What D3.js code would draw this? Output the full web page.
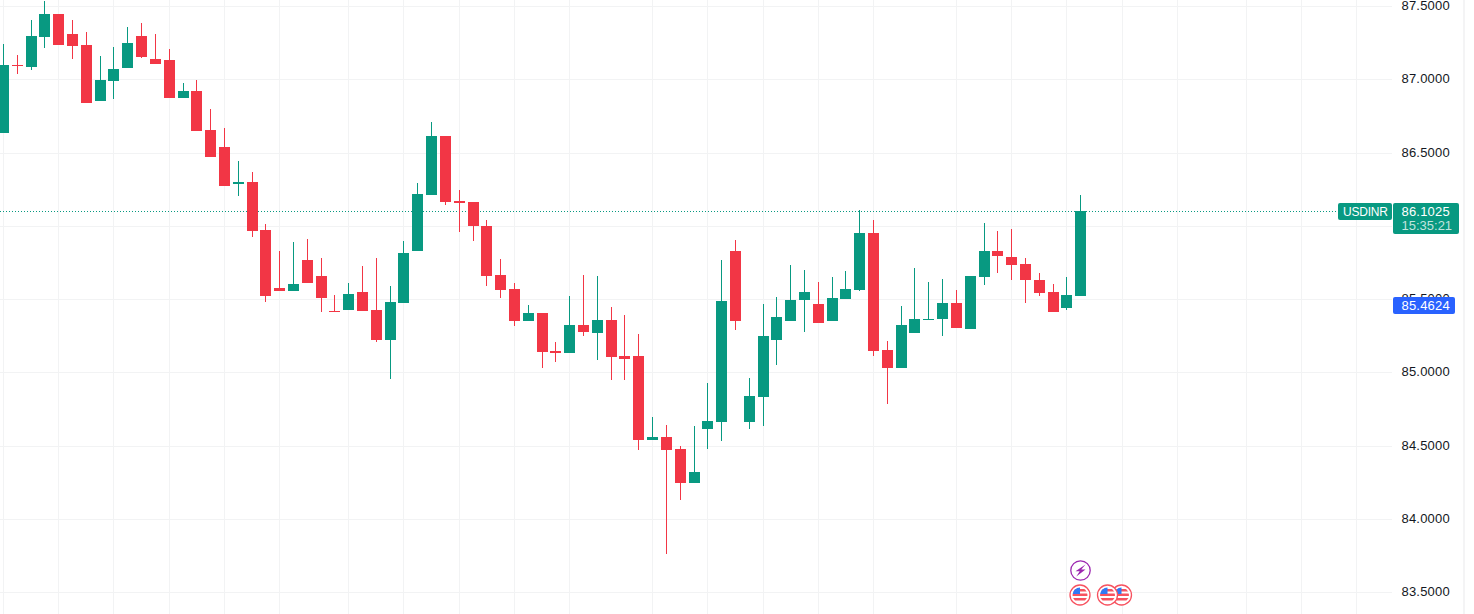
<!DOCTYPE html>
<html>
<head>
<meta charset="utf-8">
<script src="https://cdn.jsdelivr.net/npm/d3@7/dist/d3.min.js"></script>
<style>
  html, body { margin: 0; background: #fff; }
  svg { display: block; font-family: "Liberation Sans", Arial, sans-serif; }
</style>
</head>
<body>
<svg id="chart" width="1474" height="614"></svg>
<script>
const opens = [86.634,87.098,87.084,87.289,87.446,87.309,87.234,86.852,86.989,87.077,87.296,87.139,87.132,86.873,86.921,86.655,86.539,86.286,86.300,85.973,85.577,85.557,85.768,85.659,85.421,85.427,85.550,85.427,85.223,85.475,85.830,86.211,86.614,86.171,86.164,86.000,85.666,85.571,85.352,85.407,85.148,85.134,85.325,85.271,85.359,85.114,85.114,84.541,84.562,84.480,84.248,84.616,84.664,85.830,84.664,84.834,85.223,85.352,85.496,85.468,85.352,85.502,85.564,85.952,85.155,85.032,85.271,85.359,85.366,85.475,85.298,85.652,85.830,85.789,85.741,85.632,85.550,85.441,85.523];
const highs = [87.241,87.166,87.405,87.534,87.446,87.405,87.323,87.159,87.221,87.357,87.384,87.309,87.207,86.975,86.996,86.798,86.668,86.443,86.368,86.014,85.830,85.891,85.912,85.782,85.530,85.612,85.727,85.782,85.591,85.898,86.293,86.709,86.614,86.246,86.164,86.041,85.775,85.612,85.462,85.407,85.209,85.523,85.666,85.659,85.448,85.393,85.264,84.698,84.643,84.500,84.637,84.930,85.768,85.905,84.964,85.468,85.516,85.734,85.700,85.618,85.652,85.693,86.109,86.041,85.216,85.455,85.714,85.618,85.639,85.564,85.659,86.021,85.966,85.980,85.782,85.680,85.605,85.652,86.211];
const lows = [86.634,87.036,87.064,87.214,87.234,87.139,86.839,86.852,86.866,87.077,87.146,87.105,86.873,86.873,86.648,86.471,86.273,86.205,85.925,85.482,85.557,85.557,85.612,85.414,85.414,85.427,85.421,85.209,84.957,85.475,85.830,86.211,86.143,85.959,85.898,85.591,85.509,85.318,85.352,85.032,85.073,85.134,85.250,85.087,84.950,84.950,84.473,84.541,83.764,84.132,84.248,84.480,84.534,85.291,84.616,84.637,85.052,85.352,85.277,85.339,85.352,85.502,85.557,85.114,84.787,85.032,85.271,85.359,85.250,85.305,85.298,85.598,85.680,85.632,85.475,85.523,85.414,85.427,85.523];
const closes = [87.098,87.091,87.296,87.446,87.234,87.227,86.839,86.996,87.071,87.248,87.152,87.105,86.873,86.921,86.648,86.471,86.273,86.300,85.966,85.523,85.557,85.605,85.612,85.509,85.414,85.537,85.421,85.223,85.482,85.816,86.218,86.614,86.164,86.157,86.000,85.659,85.564,85.352,85.407,85.141,85.134,85.325,85.277,85.359,85.107,85.093,84.541,84.562,84.473,84.248,84.323,84.671,85.489,85.352,84.841,85.250,85.380,85.496,85.550,85.339,85.509,85.571,85.952,85.148,85.032,85.325,85.366,85.366,85.475,85.305,85.659,85.830,85.796,85.734,85.632,85.543,85.414,85.530,86.102];

const priceTicks = [83.5,84,84.5,85,85.5,86,86.5,87,87.5];
// 86.0000 sits under the last price tag in the picture
const priceLabels = [83.5,84,84.5,85,85.5,86.5,87,87.5];
const timeGrid = [0,4,8,12,16,20,25,29,33,37,41,47,51,55,59,63,69,73,77,81,85,90,94,98];

const lastPrice = 86.1025;
const countdown = '15:35:21';
const symbol = 'USDINR';
const markPrice = 85.4624;

const green = '#089981', red = '#F23645', gridCol = '#F2F3F4', axisText = '#131722';

const svg = d3.select('#chart');
const x = d3.scaleLinear().domain([0, 78]).range([3.5, 1080.7]);
const y = d3.scaleLinear().domain([87, 84]).range([79.3, 519]);
const sharpX = v => Math.floor(v);
const sharpY = v => Math.round(v);

// grid
svg.append('g').selectAll('line').data(priceTicks).join('line')
  .attr('x1', 0).attr('x2', 1392)
  .attr('y1', d => sharpY(y(d)) + 0.5).attr('y2', d => sharpY(y(d)) + 0.5)
  .attr('stroke', gridCol);
svg.append('g').selectAll('line').data(timeGrid).join('line')
  .attr('x1', d => sharpX(x(d)) + 0.5).attr('x2', d => sharpX(x(d)) + 0.5)
  .attr('y1', 0).attr('y2', 614)
  .attr('stroke', gridCol);

// last price line
svg.append('line')
  .attr('x1', 0).attr('x2', 1338)
  .attr('y1', sharpY(y(lastPrice)) + 0.5).attr('y2', sharpY(y(lastPrice)) + 0.5)
  .attr('stroke', green).attr('stroke-dasharray', '1 2');

// candles
const candles = svg.append('g').selectAll('g').data(d3.range(opens.length)).join('g')
  .attr('fill', i => closes[i] >= opens[i] ? green : red);
candles.append('rect')
  .attr('x', i => sharpX(x(i)))
  .attr('width', 1)
  .attr('y', i => sharpY(y(highs[i])))
  .attr('height', i => Math.max(1, sharpY(y(lows[i])) - sharpY(y(highs[i]))));
candles.append('rect')
  .attr('x', i => sharpX(x(i)) - 5)
  .attr('width', 11)
  .attr('y', i => sharpY(y(Math.max(opens[i], closes[i]))))
  .attr('height', i => Math.max(1, sharpY(y(Math.min(opens[i], closes[i]))) - sharpY(y(Math.max(opens[i], closes[i])))));

// price axis
svg.append('rect').attr('x', 1463).attr('y', 0).attr('width', 2).attr('height', 614).attr('fill', '#F4F4F5');
svg.append('g').selectAll('text').data(priceLabels).join('text')
  .attr('x', 1401.5).attr('y', d => y(d) + 4)
  .attr('font-size', 13).attr('letter-spacing', 0.2).attr('fill', axisText)
  .text(d => d3.format('.4f')(d));

// labels on the axis
const tagY = sharpY(y(lastPrice));
svg.append('rect').attr('x', 1338).attr('y', tagY - 8).attr('width', 54).attr('height', 17).attr('rx', 2).attr('fill', green);
svg.append('text').attr('x', 1343).attr('y', tagY + 5).attr('font-size', 12).attr('letter-spacing', -0.2).attr('fill', '#fff').text(symbol);
svg.append('rect').attr('x', 1393).attr('y', tagY - 8).attr('width', 66).attr('height', 31).attr('rx', 2).attr('fill', green);
svg.append('text').attr('x', 1401.5).attr('y', tagY + 5).attr('font-size', 13).attr('letter-spacing', 0.2).attr('fill', '#fff').text(d3.format('.4f')(lastPrice));
svg.append('text').attr('x', 1401.5).attr('y', tagY + 19).attr('font-size', 13).attr('fill', '#fff').attr('fill-opacity', 0.75).text(countdown);
const markY = sharpY(y(markPrice));
svg.append('rect').attr('x', 1393).attr('y', markY - 8).attr('width', 62).attr('height', 17).attr('rx', 2).attr('fill', '#2962FF');
svg.append('text').attr('x', 1401.5).attr('y', markY + 5).attr('font-size', 13).attr('letter-spacing', 0.2).attr('fill', '#fff').text(d3.format('.4f')(markPrice));

// event markers
const flag = (cx, cy) => {
  const g = svg.append('g').attr('transform', `translate(${cx},${cy})`);
  const id = `clip${cx}`;
  g.append('clipPath').attr('id', id).append('circle').attr('r', 7.5);
  g.append('circle').attr('r', 10).attr('fill', '#fff').attr('stroke', '#F7525F').attr('stroke-width', 1.3);
  const f = g.append('g').attr('clip-path', `url(#${id})`);
  f.append('rect').attr('x', -8).attr('y', -8).attr('width', 16).attr('height', 16).attr('fill', '#fff');
  [-6, -1.5, 3].forEach(s => f.append('rect').attr('x', -8).attr('y', s).attr('width', 16).attr('height', 2.5).attr('fill', '#F7525F'));
  f.append('rect').attr('x', -8).attr('y', -8).attr('width', 8).attr('height', 7).attr('fill', '#3179F5');
};
flag(1121.5, 595);
flag(1080, 595);
flag(1107.5, 595);
const bolt = svg.append('g').attr('transform', 'translate(1080.5,570.5)');
bolt.append('circle').attr('r', 9.7).attr('fill', '#fff').attr('stroke', '#9C27B0').attr('stroke-width', 1.3);
bolt.append('path').attr('d', 'M5,-6 L-5,0.8 L-0.8,0.8 L-4.2,6 L5,-1 L0.8,-1 Z').attr('fill', '#9C27B0');
</script>
</body>
</html>
